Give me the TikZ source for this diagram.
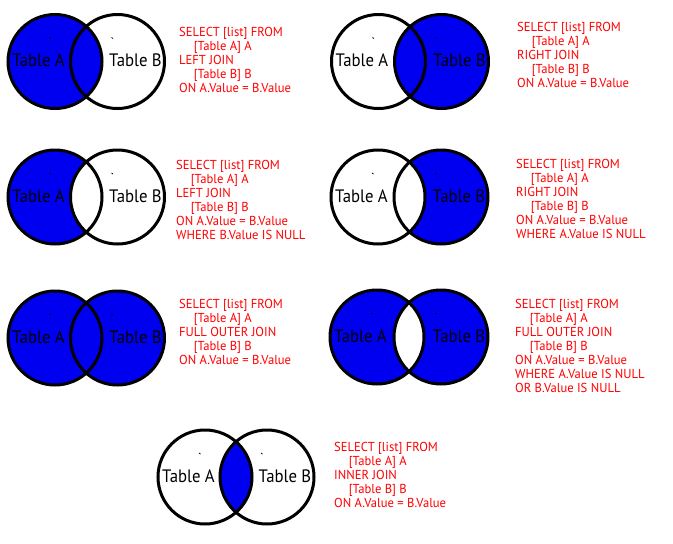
\documentclass[tikz,border=0pt]{standalone}
\usepackage{fontspec}
\setmainfont{PT Sans}
\definecolor{vblue}{RGB}{0,0,240}
\definecolor{sqlred}{RGB}{255,0,0}
\tikzset{
  ring/.style={draw=black, line width=3pt},
  tlabel/.style={anchor=base, inner sep=0pt, font=\fontsize{18}{20}\selectfont, text=black},
  sqlline/.style={anchor=base west, inner sep=0pt, font=\fontsize{13}{14}\selectfont, text=sqlred},
  tick/.style={draw=black, line width=0.8pt},
}
\newcommand\rr{47}
% \vennlabels{prefix}{xA}{xB}{y}
\newcommand\vennlabels[4]{%
  \node[tlabel] (#1la) at (#2-16.5,#4+5) {\scalebox{0.93}[1]{Table A}};
  \node[tlabel] (#1lb) at (#3+18,#4+5) {\scalebox{0.93}[1]{Table B}};
  \draw[tick] (#2-6,#4-24) -- (#2-4.5,#4-23);
  \draw[tick] (#3-6,#4-24) -- (#3-4.5,#4-23);
  \draw[ring] (#2,#4) circle (\rr);
  \draw[ring] (#3,#4) circle (\rr);
}
% \sqlblock{prefix}{x}{y}{lines}
\newcommand\sqlblock[4]{%
  \foreach \t [count=\i] in {#4} {
    \node[sqlline] (#1s\i) at (#2,#3+14*\i-14) {\scalebox{0.97}[1]{\t}};
  }
}
\newcommand\ind{\hspace*{15pt}}
\begin{document}
\begin{tikzpicture}[x=1pt,y=-1pt]
\useasboundingbox[fill=white] (0,0) rectangle (673,544);

% 1 LEFT JOIN
\fill[vblue] (55,61.5) circle (\rr);
\vennlabels{a}{55}{117.5}{61.5}
\sqlblock{a}{179}{36}{{SELECT [list] FROM},{\ind[Table A] A},{LEFT JOIN},{\ind[Table B] B},{ON A.Value = B.Value}}

% 2 RIGHT JOIN
\fill[vblue] (441.5,61.5) circle (\rr);
\vennlabels{b}{378.5}{441.5}{61.5}
\sqlblock{b}{517}{31}{{SELECT [list] FROM},{\ind[Table A] A},{RIGHT JOIN},{\ind[Table B] B},{ON A.Value = B.Value}}

% 3 LEFT JOIN, B null
\fill[vblue] (55,197) circle (\rr);
\begin{scope}\clip (117.5,197) circle (\rr); \fill[white] (55,197) circle (\rr);\end{scope}
\vennlabels{c}{55}{117.5}{197}
\sqlblock{c}{176}{169.5}{{SELECT [list] FROM},{\ind[Table A] A},{LEFT JOIN},{\ind[Table B] B},{ON A.Value = B.Value},{WHERE B.Value IS NULL}}

% 4 RIGHT JOIN, A null
\fill[vblue] (441,197) circle (\rr);
\begin{scope}\clip (378,197) circle (\rr); \fill[white] (441,197) circle (\rr);\end{scope}
\vennlabels{d}{378}{441}{197}
\sqlblock{d}{516}{168.5}{{SELECT [list] FROM},{\ind[Table A] A},{RIGHT JOIN},{\ind[Table B] B},{ON A.Value = B.Value},{WHERE A.Value IS NULL}}

% 5 FULL OUTER JOIN
\fill[vblue] (55,338) circle (\rr);
\fill[vblue] (117.5,338) circle (\rr);
\vennlabels{e}{55}{117.5}{338}
\sqlblock{e}{179}{308.5}{{SELECT [list] FROM},{\ind[Table A] A},{FULL OUTER JOIN},{\ind[Table B] B},{ON A.Value = B.Value}}

% 6 FULL OUTER JOIN, xor
\fill[vblue] (377,337) circle (\rr);
\fill[vblue] (441,337) circle (\rr);
\begin{scope}\clip (377,337) circle (\rr); \fill[white] (441,337) circle (\rr);\end{scope}
\vennlabels{f}{377}{441}{337}
\sqlblock{f}{515}{308}{{SELECT [list] FROM},{\ind[Table A] A},{FULL OUTER JOIN},{\ind[Table B] B},{ON A.Value = B.Value},{WHERE A.Value IS NULL},{OR B.Value IS NULL}}

% 7 INNER JOIN
\begin{scope}\clip (205,477) circle (\rr); \fill[vblue] (267,477) circle (\rr);\end{scope}
\vennlabels{g}{205}{267}{477}
\sqlblock{g}{334}{451.5}{{SELECT [list] FROM},{\ind[Table A] A},{INNER JOIN},{\ind[Table B] B},{ON A.Value = B.Value}}
\end{tikzpicture}
\end{document}
